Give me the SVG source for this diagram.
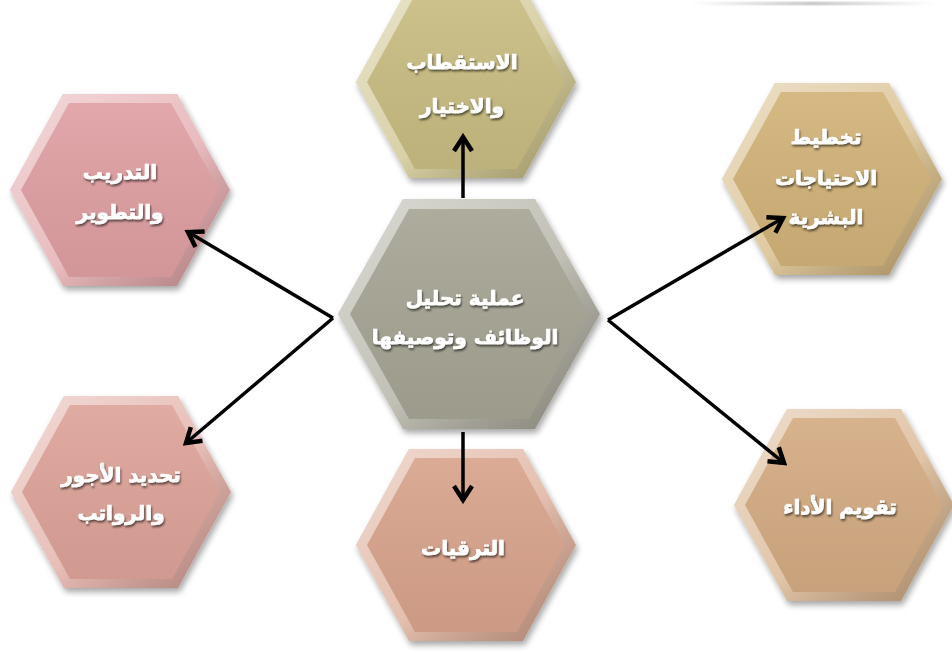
<svg xmlns="http://www.w3.org/2000/svg" width="952" height="653" viewBox="0 0 952 653">
<defs>
  <style>
    .lbl{font-family:"DejaVu Sans",sans-serif;font-weight:bold;font-size:20px;fill:#ffffff;stroke:#ffffff;stroke-width:0.7;text-anchor:middle;filter:url(#ts)}
    .conn{stroke:#000;stroke-width:3.5;fill:none;marker-end:url(#ah)}
  </style>
  <linearGradient id="bevel" x1="0" y1="0" x2="1" y2="1">
    <stop offset="0" stop-color="#fff" stop-opacity="0.6"/>
    <stop offset="0.55" stop-color="#fff" stop-opacity="0.3"/>
    <stop offset="1" stop-color="#000" stop-opacity="0.2"/>
  </linearGradient>
  <linearGradient id="face" x1="0" y1="0" x2="0" y2="1">
    <stop offset="0" stop-color="#fff" stop-opacity="0.08"/>
    <stop offset="1" stop-color="#000" stop-opacity="0.06"/>
  </linearGradient>
  <linearGradient id="topline" x1="0" y1="0" x2="1" y2="0">
    <stop offset="0" stop-color="#aaa" stop-opacity="0"/>
    <stop offset="0.5" stop-color="#aaa" stop-opacity="0.8"/>
    <stop offset="1" stop-color="#aaa" stop-opacity="0"/>
  </linearGradient>
  <filter id="sh" x="-20%" y="-20%" width="140%" height="140%">
    <feGaussianBlur in="SourceAlpha" stdDeviation="3"/>
    <feOffset dx="2" dy="4"/>
    <feComponentTransfer><feFuncA type="linear" slope="0.35"/></feComponentTransfer>
    <feMerge><feMergeNode/><feMergeNode in="SourceGraphic"/></feMerge>
  </filter>
  <filter id="ts" x="-10%" y="-30%" width="120%" height="160%">
    <feGaussianBlur in="SourceAlpha" stdDeviation="1.2"/>
    <feOffset dx="1" dy="1.5"/>
    <feComponentTransfer><feFuncA type="linear" slope="0.6"/></feComponentTransfer>
    <feMerge><feMergeNode/><feMergeNode in="SourceGraphic"/></feMerge>
  </filter>
  <filter id="blur"><feGaussianBlur stdDeviation="1"/></filter>
  <polygon id="hexO" points="-110,0 -57,-96 57,-96 110,0 57,96 -57,96"/>
  <polygon id="hexI" points="-99,0 -51,-87 51,-87 99,0 51,87 -51,87"/>
  <polygon id="hexCO" points="-131,0 -66,-115 66,-115 131,0 66,115 -66,115"/>
  <polygon id="hexCI" points="-119,0 -60,-105 60,-105 119,0 60,105 -60,105"/>
  <marker id="ah" viewBox="0 0 24 24" refX="20" refY="12" markerWidth="24" markerHeight="24" markerUnits="userSpaceOnUse" orient="auto">
    <path d="M6,3 L20,12 L6,21" fill="none" stroke="#000" stroke-width="4.5" stroke-linejoin="miter"/>
  </marker>
</defs>
<rect width="952" height="653" fill="#ffffff"/>
<rect x="690" y="2" width="245" height="3" fill="url(#topline)" filter="url(#blur)"/>

<g id="node-top" transform="translate(466,82)">
  <g filter="url(#sh)">
    <use href="#hexO" fill="#c9bd82"/><use href="#hexO" fill="url(#bevel)"/>
    <use href="#hexI" fill="#c9bd82"/><use href="#hexI" fill="url(#face)"/>
  </g>
  <text class="lbl" x="-4" y="-13">الاستقطاب</text>
  <text class="lbl" x="-4" y="31">والاختيار</text>
</g>

<g id="node-topleft" transform="translate(120,190)">
  <g filter="url(#sh)">
    <use href="#hexO" fill="#e0a0a3"/><use href="#hexO" fill="url(#bevel)"/>
    <use href="#hexI" fill="#e0a0a3"/><use href="#hexI" fill="url(#face)"/>
  </g>
  <text class="lbl" x="0" y="-11">التدريب</text>
  <text class="lbl" x="0" y="29">والتطوير</text>
</g>

<g id="node-topright" transform="translate(832,179)">
  <g filter="url(#sh)">
    <use href="#hexO" fill="#d2b379"/><use href="#hexO" fill="url(#bevel)"/>
    <use href="#hexI" fill="#d2b379"/><use href="#hexI" fill="url(#face)"/>
  </g>
  <text class="lbl" x="-6" y="-35">تخطيط</text>
  <text class="lbl" x="-6" y="6">الاحتياجات</text>
  <text class="lbl" x="-6" y="45">البشرية</text>
</g>

<g id="node-bottomleft" transform="translate(121,492)">
  <g filter="url(#sh)">
    <use href="#hexO" fill="#dea49a"/><use href="#hexO" fill="url(#bevel)"/>
    <use href="#hexI" fill="#dea49a"/><use href="#hexI" fill="url(#face)"/>
  </g>
  <text class="lbl" x="0" y="-10">تحديد الأجور</text>
  <text class="lbl" x="0" y="28">والرواتب</text>
</g>

<g id="node-bottom" transform="translate(466,545)">
  <g filter="url(#sh)">
    <use href="#hexO" fill="#d9a48d"/><use href="#hexO" fill="url(#bevel)"/>
    <use href="#hexI" fill="#d9a48d"/><use href="#hexI" fill="url(#face)"/>
  </g>
  <text class="lbl" x="-3" y="10">الترقيات</text>
</g>

<g id="node-bottomright" transform="translate(844,505)">
  <g filter="url(#sh)">
    <use href="#hexO" fill="#d4ac83"/><use href="#hexO" fill="url(#bevel)"/>
    <use href="#hexI" fill="#d4ac83"/><use href="#hexI" fill="url(#face)"/>
  </g>
  <text class="lbl" x="-4" y="9">تقويم الأداء</text>
</g>

<g id="node-center" transform="translate(469,314)">
  <g filter="url(#sh)">
    <use href="#hexCO" fill="#a7a595"/><use href="#hexCO" fill="url(#bevel)"/>
    <use href="#hexCI" fill="#a7a595"/><use href="#hexCI" fill="url(#face)"/>
  </g>
  <text class="lbl" x="-4" y="-9">عملية تحليل</text>
  <text class="lbl" x="-4" y="30">الوظائف وتوصيفها</text>
</g>

<g id="connectors">
  <line class="conn" x1="463" y1="198" x2="463" y2="137"/>
  <line class="conn" x1="463" y1="432" x2="463" y2="500"/>
  <line class="conn" x1="333" y1="318" x2="188" y2="232"/>
  <line class="conn" x1="333" y1="318" x2="186" y2="443"/>
  <line class="conn" x1="608" y1="320" x2="783" y2="218"/>
  <line class="conn" x1="608" y1="320" x2="784" y2="463"/>
</g>
</svg>
